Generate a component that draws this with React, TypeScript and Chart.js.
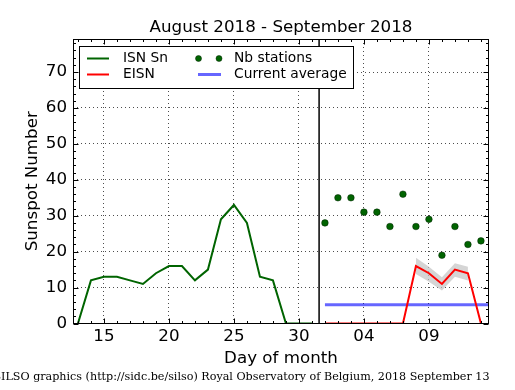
import React, { useEffect, useRef } from "react";
import { Chart, registerables } from "chart.js";

Chart.register(...registerables);

// ---- Data (day index: August days as-is, September days = 31 + day) ----
const isnDays = [13, 14, 15, 16, 17, 18, 19, 20, 21, 22, 23, 24, 25, 26, 27, 28, 29, 30, 31];
const isnValues = [0, 12, 13, 13, 12, 11, 14, 16, 16, 12, 15, 29, 33, 28, 13, 12, 0, 0, 0];

const eisnDays = [32, 33, 34, 35, 36, 37, 38, 39, 40, 41, 42, 43, 44];
const eisnValues = [0, 0, 0, 0, 0, 0, 0, 16, 14, 11, 15, 14, 0];

const bandDays = [39, 40, 41, 42, 43];
const bandUpper = [18.3, 15.8, 12.9, 16.8, 15.8];
const bandLower = [13.8, 11.6, 9.2, 13.0, 12.0];

const stationDays = [32, 33, 34, 35, 36, 37, 38, 39, 40, 41, 42, 43, 44];
const stationValues = [28, 35, 35, 31, 31, 27, 36, 27, 29, 19, 27, 22, 23];

const averageDays = [32, 45];
const averageValue = 5.2;

const separatorDay = 31.55;

const xMin = 12.62;
const xMax = 44.62;
const yMin = 0;
const yMax = 79.2;

const xTickValues = [15, 20, 25, 30, 35, 40];
const xTickLabels = ["15", "20", "25", "30", "04", "09"];
const yTickValues = [0, 10, 20, 30, 40, 50, 60, 70];

const titleText = "August 2018 - September 2018";
const yTitle = "Sunspot Number";
const xTitle = "Day of month";
const footerText =
  "SILSO graphics (http://sidc.be/silso) Royal Observatory of Belgium, 2018 September 13";

const legendItems = ["ISN Sn", "EISN", "Nb stations", "Current average"];

const GREEN = "#006400";
const RED = "#ff0000";
const BLUE = "rgba(0,0,255,0.6)";
const BAND = "rgba(195,195,195,0.7)";
const SANS = "'DejaVu Sans', sans-serif";
const SERIF = "'DejaVu Serif', serif";

const pts = (xs: number[], ys: number[]) => xs.map((x, i) => ({ x, y: ys[i] }));

const decorPlugin = {
  id: "decor",
  afterDraw(chart: any) {
    const { ctx, chartArea } = chart;
    const xs = chart.scales.x;
    const ys = chart.scales.y;
    const L = Math.round(chartArea.left) + 0.5;
    const R = Math.round(chartArea.right) - 0.5;
    const T = Math.round(chartArea.top) + 0.5;
    const B = Math.round(chartArea.bottom) - 0.5;
    ctx.save();
    ctx.strokeStyle = "#000";
    ctx.lineWidth = 1;
    // ticks (inward, all four sides)
    const majorLen = 5;
    const minorLen = 2.5;
    ctx.beginPath();
    for (let d = Math.ceil(xMin); d <= xMax; d++) {
      const px = Math.round(xs.getPixelForValue(d)) + 0.5;
      const len = xTickValues.includes(d) ? majorLen : minorLen;
      ctx.moveTo(px, B);
      ctx.lineTo(px, B - len);
      ctx.moveTo(px, T);
      ctx.lineTo(px, T + len);
    }
    for (let v = 0; v <= yMax; v += 2) {
      const py = Math.round(ys.getPixelForValue(v)) + 0.5;
      const len = yTickValues.includes(v) ? majorLen : minorLen;
      ctx.moveTo(L, py);
      ctx.lineTo(L + len, py);
      ctx.moveTo(R, py);
      ctx.lineTo(R - len, py);
    }
    ctx.stroke();
    // frame
    ctx.strokeRect(L, T, R - L, B - T);

    // legend
    const lx = 79.5, ly = 46.5, lw = 274, lh = 42;
    ctx.fillStyle = "#fff";
    ctx.fillRect(lx, ly, lw, lh);
    ctx.strokeRect(lx, ly, lw, lh);
    const row1 = 58.5, row2 = 74.5;
    ctx.lineWidth = 2;
    ctx.strokeStyle = GREEN;
    ctx.beginPath();
    ctx.moveTo(87, row1);
    ctx.lineTo(109, row1);
    ctx.stroke();
    ctx.strokeStyle = RED;
    ctx.beginPath();
    ctx.moveTo(87, row2);
    ctx.lineTo(109, row2);
    ctx.stroke();
    ctx.lineWidth = 3;
    ctx.strokeStyle = BLUE;
    ctx.beginPath();
    ctx.moveTo(198, row2);
    ctx.lineTo(221, row2);
    ctx.stroke();
    ctx.fillStyle = GREEN;
    ctx.strokeStyle = "#002000";
    ctx.lineWidth = 0.5;
    [198.5, 219].forEach((cx) => {
      ctx.beginPath();
      ctx.arc(cx, row1, 3, 0, Math.PI * 2);
      ctx.fill();
      ctx.stroke();
    });
    ctx.fillStyle = "#000";
    ctx.font = `13.8px ${SANS}`;
    ctx.textBaseline = "middle";
    ctx.textAlign = "left";
    ctx.fillText(legendItems[0], 123, row1);
    ctx.fillText(legendItems[1], 123, row2);
    ctx.fillText(legendItems[2], 234, row1);
    ctx.fillText(legendItems[3], 234, row2);

    // title
    ctx.textBaseline = "alphabetic";
    ctx.font = `16.7px ${SANS}`;
    ctx.textAlign = "center";
    ctx.fillText(titleText, (chartArea.left + chartArea.right) / 2, 32);
    // x title
    ctx.fillText(xTitle, (chartArea.left + chartArea.right) / 2, 362.5);
    // y title
    ctx.save();
    ctx.translate(36.7, (chartArea.top + chartArea.bottom) / 2);
    ctx.rotate(-Math.PI / 2);
    ctx.fillText(yTitle, 0, 0);
    ctx.restore();
    // footer
    ctx.font = `11.15px ${SERIF}`;
    ctx.textAlign = "right";
    ctx.fillText(footerText, 489.5, 380);
    ctx.restore();
  },
};

export default function App() {
  const ref = useRef<HTMLCanvasElement | null>(null);
  useEffect(() => {
    if (!ref.current) return;
    const chart = new Chart(ref.current, {
      type: "line",
      data: {
        datasets: [
          {
            label: "Nb stations",
            data: pts(stationDays, stationValues),
            showLine: false,
            pointRadius: 3.3,
            pointBackgroundColor: GREEN,
            pointBorderColor: "#002000",
            pointBorderWidth: 0.5,
            order: 0,
          },
          {
            label: "separator",
            data: [
              { x: separatorDay, y: yMin },
              { x: separatorDay, y: yMax },
            ],
            borderColor: "#000",
            borderWidth: 1.5,
            pointRadius: 0,
            order: 1,
          },
          {
            label: "EISN",
            data: pts(eisnDays, eisnValues),
            borderColor: RED,
            borderWidth: 2,
            pointRadius: 0,
            tension: 0,
            order: 2,
          },
          {
            label: "ISN Sn",
            data: pts(isnDays, isnValues),
            borderColor: GREEN,
            borderWidth: 2,
            pointRadius: 0,
            tension: 0,
            order: 3,
          },
          {
            label: "Current average",
            data: averageDays.map((d) => ({ x: d, y: averageValue })),
            borderColor: BLUE,
            borderWidth: 3,
            pointRadius: 0,
            order: 4,
          },
          {
            label: "band upper",
            data: pts(bandDays, bandUpper),
            borderWidth: 0,
            borderColor: "rgba(0,0,0,0)",
            backgroundColor: BAND,
            pointRadius: 0,
            fill: "+1",
            order: 5,
          },
          {
            label: "band lower",
            data: pts(bandDays, bandLower),
            borderWidth: 0,
            borderColor: "rgba(0,0,0,0)",
            pointRadius: 0,
            fill: false,
            order: 6,
          },
        ],
      },
      options: {
        animation: false,
        responsive: false,
        maintainAspectRatio: false,
        layout: { padding: { left: 0, right: 26, top: 39, bottom: 0 } },
        plugins: {
          legend: { display: false },
          tooltip: { enabled: false },
          title: { display: false },
        },
        scales: {
          x: {
            type: "linear",
            min: xMin,
            max: xMax,
            afterFit: (s: any) => {
              s.height = 66.5;
            },
            afterBuildTicks: (s: any) => {
              s.ticks = xTickValues.map((v) => ({ value: v }));
            },
            ticks: {
              callback: (v: any) => {
                const i = xTickValues.indexOf(Number(v));
                return i >= 0 ? xTickLabels[i] : "";
              },
              font: { family: SANS, size: 16.7 },
              color: "#000",
              padding: 3,
              maxRotation: 0,
              autoSkip: false,
            },
            grid: { drawTicks: false, color: "#000", lineWidth: 0.7, borderDash: [1, 3] } as any,
            border: { display: false, dash: [1, 3] },
          },
          y: {
            type: "linear",
            min: yMin,
            max: yMax,
            afterFit: (s: any) => {
              s.width = 73;
            },
            afterBuildTicks: (s: any) => {
              s.ticks = yTickValues.map((v) => ({ value: v }));
            },
            ticks: {
              font: { family: SANS, size: 16.7 },
              color: "#000",
              padding: 6,
            },
            grid: { drawTicks: false, color: "#000", lineWidth: 0.7, borderDash: [1, 3] } as any,
            border: { display: false, dash: [1, 3] },
          },
        },
      },
      plugins: [decorPlugin],
    } as any);
    return () => chart.destroy();
  }, []);
  return (
    <div style={{ position: "absolute", left: 0, top: 0, width: 515, height: 390, background: "#fff" }}>
      <canvas ref={ref} width={515} height={390} style={{ display: "block" }} />
    </div>
  );
}
